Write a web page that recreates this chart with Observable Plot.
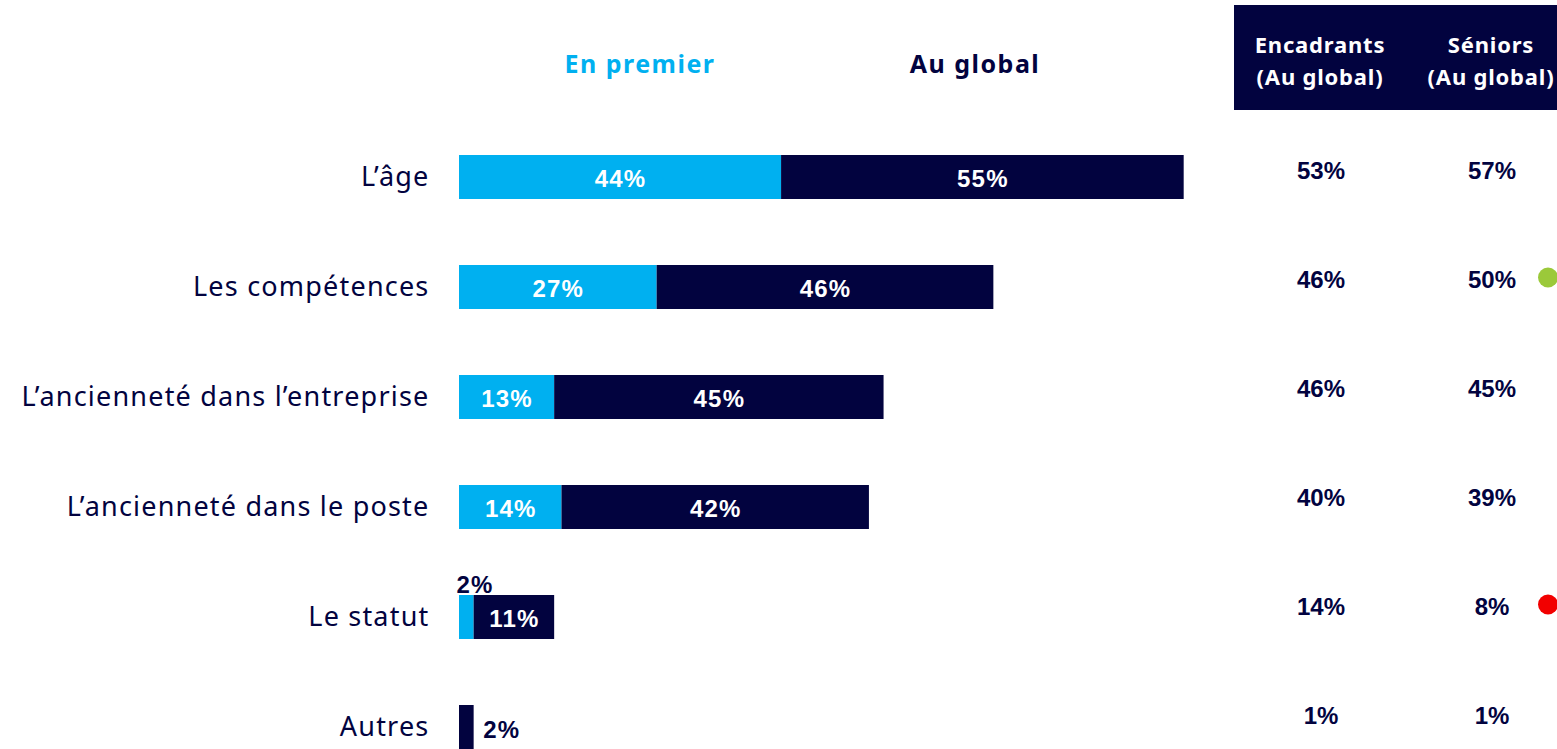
<!DOCTYPE html>
<html>
<head>
<meta charset="utf-8">
<script src="https://cdn.jsdelivr.net/npm/d3@7"></script>
<script src="https://cdn.jsdelivr.net/npm/@observablehq/plot@0.6"></script>
<style>
  html, body { margin: 0; padding: 0; background: #fff; }
  #wrap { position: relative; width: 1557px; height: 749px; overflow: hidden; background: #fff; }
  #wrap > .layer { position: absolute; left: 0; top: 0; max-width: none !important; }
  .hdr { position: absolute; transform: translate(-50%, -50%); font-family: "Noto Sans", sans-serif; font-weight: 700; font-size: 25px; letter-spacing: 1.5px; white-space: nowrap; }
  #box { position: absolute; left: 1234px; top: 5px; width: 330px; height: 105px; background: #02033f; }
  .colhdr { position: absolute; transform: translate(-50%, -50%); font-family: "Noto Sans", sans-serif; font-weight: 700; font-size: 22px; letter-spacing: 0.8px; color: #fff; text-align: center; line-height: 32px; white-space: nowrap; }
</style>
</head>
<body>
<div id="wrap"></div>
<script>
const categories = ["L’âge", "Les compétences", "L’ancienneté dans l’entreprise", "L’ancienneté dans le poste", "Le statut", "Autres"];
const seriesNames = ["En premier", "Au global"];
const enPremier = [44, 27, 13, 14, 2, 0];
const auGlobal = [55, 46, 45, 42, 11, 2];
const columnNames = ["Encadrants", "Séniors"];
const columnSub = ["(Au global)", "(Au global)"];
const encadrants = [53, 46, 46, 40, 14, 1];
const seniors = [57, 50, 45, 39, 8, 1];
const seniorsFlag = ["", "up", "", "", "down", ""];

const LIGHT = "#00b0f0", NAVY = "#02033f", GREEN = "#9bc93a", RED = "#f20000";
const NUMFONT = "'Liberation Sans', Arial, sans-serif";

const rows = [];
categories.forEach((c, i) => {
  rows.push({cat: c, series: seriesNames[0], value: enPremier[i]});
  rows.push({cat: c, series: seriesNames[1], value: auGlobal[i]});
});
const tableRows = [];
categories.forEach((c, i) => {
  tableRows.push({cat: c, col: columnNames[0], value: encadrants[i], flag: ""});
  tableRows.push({cat: c, col: columnNames[1], value: seniors[i], flag: seniorsFlag[i]});
});

const stackOpts = (extra) => Plot.stackX(Object.assign({x: "value", y: "cat", z: "series", order: seriesNames}, extra));

const main = Plot.plot({
  width: 1557,
  height: 749,
  marginLeft: 459,
  marginRight: 366,
  marginTop: 154,
  marginBottom: 0,
  x: {domain: [0, 100], axis: null},
  y: {type: "band", domain: categories, label: null, tickSize: 0, tickPadding: 30, paddingInner: 0.6, paddingOuter: 0},
  color: {domain: seriesNames, range: [LIGHT, NAVY]},
  style: {fontFamily: "'Noto Sans', sans-serif", fontSize: "27px", letterSpacing: "1.2px", color: NAVY, background: "transparent", maxWidth: "none"},
  marks: [
    Plot.barX(rows, stackOpts({fill: "series"})),
    Plot.text(rows, stackOpts({
      text: d => d.value >= 10 ? d.value + "%" : "",
      fill: "white", fontWeight: "bold", fontSize: 24, fontFamily: NUMFONT, dy: 2
    })),
    Plot.text(rows, Plot.stackX1({
      x: "value", y: "cat", z: "series", order: seriesNames,
      text: d => d.series === seriesNames[0] && d.value > 0 && d.value < 10 ? d.value + "%" : "",
      fill: NAVY, fontWeight: "bold", fontSize: 24, fontFamily: NUMFONT, textAnchor: "start", dx: -3, dy: -32
    })),
    Plot.text(rows, Plot.stackX2({
      x: "value", y: "cat", z: "series", order: seriesNames,
      text: d => d.series === seriesNames[1] && d.value < 10 ? d.value + "%" : "",
      fill: NAVY, fontWeight: "bold", fontSize: 24, fontFamily: NUMFONT, textAnchor: "start", dx: 9, dy: 3
    }))
  ]
});
main.classList.add("layer");

const table = Plot.plot({
  width: 1600,
  height: 749,
  marginLeft: 1234.5,
  marginRight: 23.5,
  marginTop: 148,
  marginBottom: 10,
  x: {type: "band", domain: columnNames, axis: null, padding: 0},
  y: {type: "band", domain: categories, axis: null, paddingInner: 0.6, paddingOuter: 0},
  style: {background: "transparent", fontFamily: NUMFONT, maxWidth: "none"},
  marks: [
    Plot.text(tableRows, {x: "col", y: "cat", text: d => d.value + "%", fill: NAVY, fontWeight: "bold", fontSize: 24}),
    Plot.dot(tableRows.filter(d => d.flag === "up"), {x: "col", y: "cat", r: 10, fill: GREEN, dx: 56, dy: -3}),
    Plot.dot(tableRows.filter(d => d.flag === "down"), {x: "col", y: "cat", r: 10, fill: RED, dx: 56, dy: -3})
  ]
});
table.classList.add("layer");

const wrap = document.getElementById("wrap");
wrap.appendChild(main);

const h1 = document.createElement("div");
h1.className = "hdr"; h1.style.left = "640px"; h1.style.top = "63px"; h1.style.color = LIGHT; h1.textContent = seriesNames[0];
const h2 = document.createElement("div");
h2.className = "hdr"; h2.style.left = "975px"; h2.style.top = "63px"; h2.style.color = NAVY; h2.textContent = seriesNames[1];
wrap.appendChild(h1); wrap.appendChild(h2);

const box = document.createElement("div"); box.id = "box"; wrap.appendChild(box);
const colCenters = [1320, 1491];
columnNames.forEach((n, i) => {
  const d = document.createElement("div");
  d.className = "colhdr";
  d.style.left = colCenters[i] + "px";
  d.style.top = "60px";
  d.innerHTML = n + "<br>" + columnSub[i];
  wrap.appendChild(d);
});

wrap.appendChild(table);
</script>
</body>
</html>
